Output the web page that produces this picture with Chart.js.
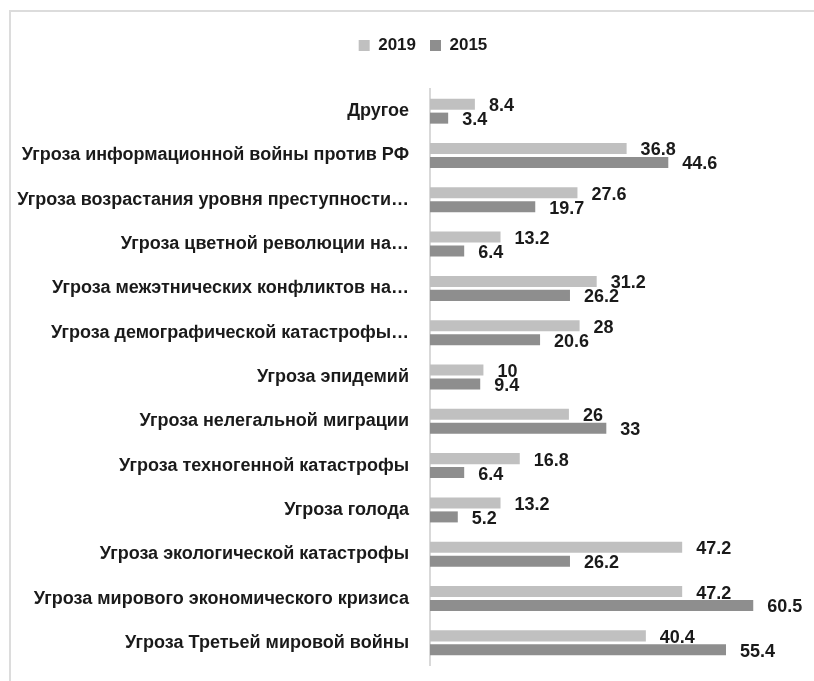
<!DOCTYPE html>
<html>
<head>
<meta charset="utf-8">
<script src="https://cdn.jsdelivr.net/npm/chart.js@4"></script>
<style>
    html, body { margin: 0; padding: 0; background: #fff; }
    #wrap { position: relative; width: 814px; height: 681px; }
    #frame {
        position: absolute; left: 9px; top: 10px; right: 0; bottom: 0;
        border-left: 2px solid #dcdcdc; border-top: 2px solid #dcdcdc;
    }
    canvas { position: absolute; left: 0; top: 0; }
</style>
</head>
<body>
<div id="wrap">
    <div id="frame"></div>
    <canvas id="threatChart" width="814" height="681"></canvas>
</div>
<script>
// Chart data
const categories = [
    'Другое',
    'Угроза информационной войны против РФ',
    'Угроза возрастания уровня преступности…',
    'Угроза цветной революции на…',
    'Угроза межэтнических конфликтов на…',
    'Угроза демографической катастрофы…',
    'Угроза эпидемий',
    'Угроза нелегальной миграции',
    'Угроза техногенной катастрофы',
    'Угроза голода',
    'Угроза экологической катастрофы',
    'Угроза мирового экономического кризиса',
    'Угроза Третьей мировой войны'
];
const values2019 = [8.4, 36.8, 27.6, 13.2, 31.2, 28, 10, 26, 16.8, 13.2, 47.2, 47.2, 40.4];
const values2015 = [3.4, 44.6, 19.7, 6.4, 26.2, 20.6, 9.4, 33, 6.4, 5.2, 26.2, 60.5, 55.4];
const seriesLabels = ['2019', '2015'];

const textColor = '#1a1a1a';
const fontFamily = '"Liberation Sans", Arial, sans-serif';

// Value labels at the end of each bar
const barValueLabels = {
    id: 'barValueLabels',
    afterDatasetsDraw(chart) {
        const ctx = chart.ctx;
        ctx.save();
        ctx.font = 'bold 18px ' + fontFamily;
        ctx.fillStyle = textColor;
        ctx.textAlign = 'left';
        ctx.textBaseline = 'middle';
        chart.data.datasets.forEach((ds, i) => {
            chart.getDatasetMeta(i).data.forEach((bar, j) => {
                ctx.fillText(String(ds.data[j]), bar.x + 14, bar.y + 2);
            });
        });
        ctx.restore();
    }
};

// Extra space under the legend, and legend nudged right over the plot
const legendSpacer = {
    id: 'legendSpacer',
    beforeInit(chart) {
        const fit = chart.legend.fit;
        chart.legend.fit = function() {
            fit.bind(chart.legend)();
            this.height += 25;
        };
    },
    afterLayout(chart) {
        chart.legend.left += 16;
        chart.legend.right += 16;
    }
};

const ctx = document.getElementById('threatChart').getContext('2d');
new Chart(ctx, {
    type: 'bar',
    data: {
        labels: categories,
        datasets: [
            {
                label: seriesLabels[0],
                data: values2019,
                backgroundColor: '#c0c0c0',
                categoryPercentage: 0.63,
                barPercentage: 0.79
            },
            {
                label: seriesLabels[1],
                data: values2015,
                backgroundColor: '#8e8e8e',
                categoryPercentage: 0.63,
                barPercentage: 0.79
            }
        ]
    },
    options: {
        indexAxis: 'y',
        responsive: false,
        animation: false,
        layout: { padding: { top: 23, right: 10, left: 10, bottom: 16 } },
        plugins: {
            legend: {
                display: true,
                position: 'top',
                labels: {
                    boxWidth: 11,
                    boxHeight: 11,
                    padding: 14,
                    color: textColor,
                    font: { family: fontFamily, size: 17, weight: 'bold' }
                }
            },
            tooltip: { enabled: false }
        },
        scales: {
            x: {
                display: false,
                min: 0,
                max: 70
            },
            y: {
                afterFit(scale) { scale.width = 420; },
                grid: {
                    drawOnChartArea: false,
                    drawTicks: true,
                    tickLength: 21,
                    color: 'rgba(0,0,0,0)'
                },
                border: { display: true, color: '#d9d9d9', width: 2 },
                ticks: {
                    padding: 0,
                    color: textColor,
                    autoSkip: false,
                    font: { family: fontFamily, size: 18, weight: 'bold' }
                }
            }
        }
    },
    plugins: [barValueLabels, legendSpacer]
});
</script>
</body>
</html>
